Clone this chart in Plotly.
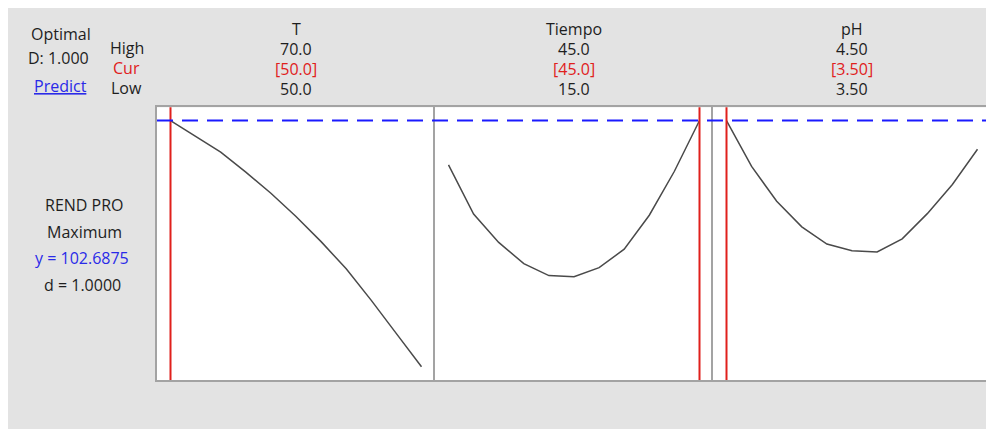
import plotly.graph_objects as go

# ---- data ----
factors = ["T", "Tiempo", "pH"]
high_vals = [70.0, 45.0, 4.50]
low_vals = [50.0, 15.0, 3.50]
cur_vals = [50.0, 45.0, 3.50]
high_lbl = ["70.0", "45.0", "4.50"]
cur_lbl = ["[50.0]", "[45.0]", "[3.50]"]
low_lbl = ["50.0", "15.0", "3.50"]

T_x = [50, 52, 54, 56, 58, 60, 62, 64, 66, 68, 70]
T_y = [102.6875, 98.7, 94.8, 89.8, 84.5, 78.7, 72.4, 65.6, 57.7, 49.4, 41.1]
Tiempo_x = [15, 18, 21, 24, 27, 30, 33, 36, 39, 42, 45]
Tiempo_y = [91.6, 79.3, 72.2, 66.9, 63.9, 63.6, 65.9, 70.5, 79.0, 90.0, 102.6875]
pH_x = [3.5, 3.6, 3.7, 3.8, 3.9, 4.0, 4.1, 4.2, 4.3, 4.4, 4.5]
pH_y = [102.6875, 91.2, 82.5, 76.1, 71.8, 70.1, 69.8, 73.1, 79.4, 86.7, 95.5]

response = "REND PRO"
goal = "Maximum"
y_opt = 102.6875
d_val = 1.0000
D_comp = 1.000

# ---- layout helpers (body margin removed; figure fills the window) ----
W, H = 986, 429
def px(x): return x / W
def py(y): return 1 - y / H

FONT = "Open Sans"
FS = 16
TXT = "#1e1e1e"
RED = "#e0201c"
BLUE = "#2a2ae8"
BG = "#e3e3e3"

series = [(T_x, T_y), (Tiempo_x, Tiempo_y), (pH_x, pH_y)]
panel_px = [(157, 435), (435, 713), (713, 991)]
pad = 13.5 / 251.0

yall = T_y + Tiempo_y + pH_y
ymin, ymax = min(yall), max(yall)
ypad = (ymax - ymin) * pad
yrange = [ymin - ypad, ymax + ypad]
ydom = [py(380), py(107.3)]

fig = go.Figure()
layout = dict(
    width=W, height=H,
    margin=dict(l=0, r=0, t=0, b=0),
    paper_bgcolor=BG, plot_bgcolor="white",
    showlegend=False,
    shapes=[], annotations=[],
)
# white frame strips at top and left
layout["shapes"].append(dict(type="rect", xref="paper", yref="paper", x0=0, x1=1,
                             y0=py(8), y1=1, fillcolor="white", line=dict(width=0), layer="below"))
layout["shapes"].append(dict(type="rect", xref="paper", yref="paper", x0=0, x1=px(8),
                             y0=0, y1=1, fillcolor="white", line=dict(width=0), layer="below"))

for i, (xs, ys) in enumerate(series):
    n = "" if i == 0 else str(i + 1)
    lo, hi = low_vals[i], high_vals[i]
    span = hi - lo
    r0 = lo - span * pad
    r1 = hi + span * pad
    p0, p1 = panel_px[i]
    d1 = px(p1)
    if d1 > 1:
        r1 = r0 + (r1 - r0) * (W - p0) / (p1 - p0)
        d1 = 1
    layout["xaxis" + n] = dict(domain=[px(p0), d1], range=[r0, r1], anchor="y" + n,
                               showgrid=False, zeroline=False, showticklabels=False, ticks="",
                               showline=True, mirror=True, linecolor="#a3a3a3", linewidth=2)
    layout["yaxis" + n] = dict(domain=ydom, range=yrange, anchor="x" + n,
                               showgrid=False, zeroline=False, showticklabels=False, ticks="",
                               showline=True, mirror=False, linecolor="#a3a3a3", linewidth=2)
    fig.add_trace(go.Scatter(x=xs, y=ys, mode="lines", xaxis="x" + n, yaxis="y" + n,
                             line=dict(color="#4a4a4a", width=1.5), hoverinfo="skip"))
    layout["shapes"].append(dict(type="line", xref="x" + n, yref="y" + n + " domain",
                                 x0=cur_vals[i], x1=cur_vals[i], y0=0, y1=1,
                                 line=dict(color=RED, width=2)))
    cx = px((p0 + p1) / 2)
    for txt, yy, col in [(factors[i], 29, TXT), (high_lbl[i], 49, TXT),
                         (cur_lbl[i], 69, RED), (low_lbl[i], 89, TXT)]:
        layout["annotations"].append(dict(text=txt, x=cx, y=py(yy), xref="paper", yref="paper",
                                          showarrow=False, xanchor="center", yanchor="middle",
                                          font=dict(family=FONT, size=FS, color=col)))

layout["shapes"].append(dict(type="line", xref="paper", yref="y",
                             x0=px(157), x1=1, y0=y_opt, y1=y_opt,
                             line=dict(color="#1a1aff", width=2, dash="16px,9px")))

left_txt = [
    ("Optimal", 61, 34, TXT),
    ("D: 1.000", 58, 58, TXT),
    ("<u>Predict</u>", 60, 86, BLUE),
    ("High", 127, 48, TXT),
    ("Cur", 127, 68, RED),
    ("Low", 127, 88, TXT),
    (response, 84, 205, TXT),
    (goal, 84, 232, TXT),
    ("y = %.4f" % y_opt, 82, 258, BLUE),
    ("d = %.4f" % d_val, 82, 285, TXT),
]
for txt, xx, yy, col in left_txt:
    layout["annotations"].append(dict(text=txt, x=px(xx), y=py(yy), xref="paper", yref="paper",
                                      showarrow=False, xanchor="center", yanchor="middle",
                                      font=dict(family=FONT, size=FS, color=col)))

fig.update_layout(**layout)
fig.write_html(
    "out.html",
    config={"displayModeBar": False},
    post_script="document.body.style.margin='0';document.documentElement.style.overflow='hidden';document.body.style.overflow='hidden';",
)
